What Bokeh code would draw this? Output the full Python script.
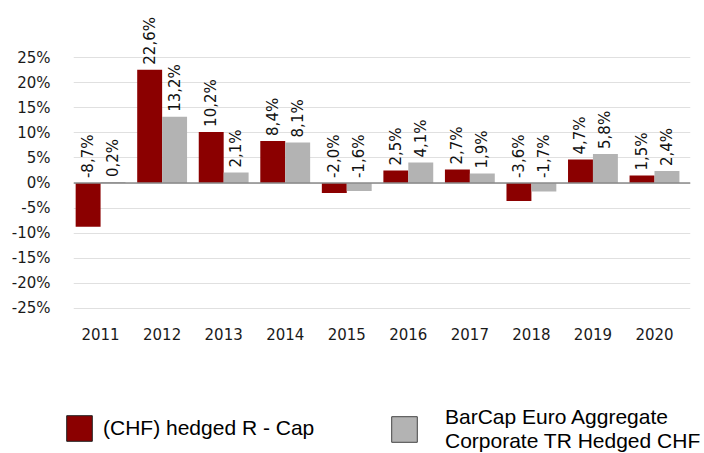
from bokeh.plotting import figure
from bokeh.layouts import column
from bokeh.models import (Range1d, FixedTicker, Span, Legend, LegendItem,
                          ColumnDataSource)
from bokeh.core.properties import value
from bokeh.embed import file_html
from bokeh.resources import INLINE

years = ["2011", "2012", "2013", "2014", "2015", "2016", "2017", "2018", "2019", "2020"]
rcap = [-8.7, 22.6, 10.2, 8.4, -2.0, 2.5, 2.7, -3.6, 4.7, 1.5]
barcap = [0.2, 13.2, 2.1, 8.1, -1.6, 4.1, 1.9, -1.7, 5.8, 2.4]
y_ticks = [-25, -20, -15, -10, -5, 0, 5, 10, 15, 20, 25]
series_names = ["(CHF) hedged R - Cap", "BarCap Euro Aggregate\nCorporate TR Hedged CHF"]

RED = "#8b0000"
GREY = "#b3b3b3"
FONT = "DejaVu Sans"

idx = list(range(len(years)))
W = 0.405
OFF = 0.2025

def fmt(v):
    return ("%.1f%%" % v).replace(".", ",")

src_r = ColumnDataSource(dict(x=[i - OFF for i in idx], top=rcap,
                              ly=[max(v, 0) for v in rcap], lab=[fmt(v) for v in rcap]))
src_g = ColumnDataSource(dict(x=[i + OFF for i in idx], top=barcap,
                              ly=[max(v, 0) for v in barcap], lab=[fmt(v) for v in barcap]))

p = figure(width=704, height=395, output_backend="svg", toolbar_location=None,
           x_range=Range1d(-0.44, 9.585), y_range=Range1d(-27, 34),
           min_border_left=73, min_border_right=14, min_border_top=12,
           min_border_bottom=77)
p.outline_line_color = None
p.frame_align = False

p.vbar(x="x", top="top", bottom=0, width=W, source=src_r, fill_color=RED, line_color=None)
p.vbar(x="x", top="top", bottom=0, width=W, source=src_g, fill_color=GREY, line_color=None)

for s in (src_r, src_g):
    p.text(x="x", y="ly", text="lab", source=s, angle=1.5708, text_align="left",
           text_baseline="middle", y_offset=-5, text_font=value(FONT),
           text_font_size="15px", text_color="#111111")

p.add_layout(Span(location=0, dimension="width", line_color="#8a8a8a", line_width=1.5))

p.xaxis.ticker = FixedTicker(ticks=idx)
p.xaxis.major_label_overrides = {i: y for i, y in zip(idx, years)}
p.yaxis.ticker = FixedTicker(ticks=y_ticks)
p.yaxis.major_label_overrides = {t: "%d%%" % t for t in y_ticks}
for ax in (p.xaxis[0], p.yaxis[0]):
    ax.axis_line_color = None
    ax.major_tick_line_color = None
    ax.minor_tick_line_color = None
    ax.major_tick_out = 0
    ax.major_tick_in = 0
    ax.major_label_text_font = FONT
    ax.major_label_text_font_size = "15px"
    ax.major_label_text_color = "#1a1a1a"
p.yaxis.major_label_standoff = 23
p.xaxis.major_label_standoff = 9
p.xgrid.visible = False
p.ygrid.ticker = FixedTicker(ticks=y_ticks)
p.ygrid.grid_line_color = "#e0e0e0"
p.ygrid.grid_line_width = 1

# legend strip: same series drawn out of view, used only as legend handles
p2 = figure(width=704, height=58, output_backend="svg", toolbar_location=None,
            x_range=Range1d(-0.44, 9.585), y_range=Range1d(1000, 1001),
            x_axis_type=None, y_axis_type=None, min_border=0)
p2.outline_line_color = None
p2.frame_align = False
p2.grid.visible = False
proxy_r = p2.vbar(x="x", top="top", bottom=0, width=W, source=src_r,
                  fill_color=RED, line_color="#222222")
proxy_g = p2.vbar(x="x", top="top", bottom=0, width=W, source=src_g,
                  fill_color=GREY, line_color="#444444")

def mk_legend(item, loc, standoff):
    lg = Legend(items=[item], location=loc, orientation="vertical",
                glyph_width=32, glyph_height=32, label_standoff=standoff,
                label_text_font="Liberation Sans", label_text_font_size="21px",
                label_text_line_height=1.15,
                label_text_color="#000000", padding=0, margin=0, spacing=0,
                border_line_color=None, background_fill_alpha=0, label_height=20)
    p2.add_layout(lg, "center")

mk_legend(LegendItem(label=series_names[0], renderers=[proxy_r]), (63, 9), 8)
mk_legend(LegendItem(label=series_names[1], renderers=[proxy_g]), (388, 0), 25)

layout = column(p, p2, spacing=0)
open("out.html", "w").write(file_html(layout, INLINE))
